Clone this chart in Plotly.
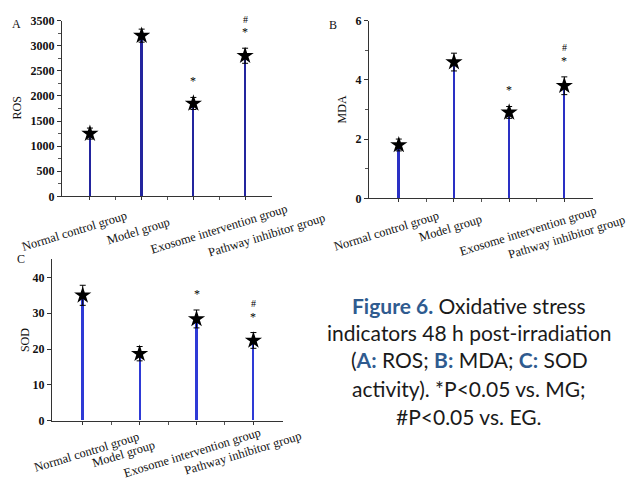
import plotly.graph_objects as go

# ---------------- data ----------------
categories = ["Normal control group", "Model group",
              "Exosome intervention group", "Pathway inhibitor group"]
ros_mean = [1250, 3200, 1850, 2800]
ros_err = [110, 130, 120, 150]
mda_mean = [1.8, 4.6, 2.9, 3.8]
mda_err = [0.2, 0.3, 0.2, 0.3]
sod_mean = [35.0, 18.7, 28.4, 22.4]
sod_err = [2.8, 2.0, 2.5, 2.2]
sig_star = ["", "", "*", "*"]
sig_hash = ["", "", "", "#"]
ros_ticks = [0, 500, 1000, 1500, 2000, 2500, 3000, 3500]
mda_ticks = [0, 2, 4, 6]
sod_ticks = [0, 10, 20, 30, 40]

caption_lines = [
    "<b style='color:#2f5b8f'>Figure 6.</b> Oxidative stress",
    "indicators 48 h post-irradiation",
    "(<b style='color:#2f5b8f'>A:</b> ROS; <b style='color:#2f5b8f'>B:</b> MDA; <b style='color:#2f5b8f'>C:</b> SOD",
    "activity). *P&lt;0.05 vs. MG;",
    "#P&lt;0.05 vs. EG.",
]

# ---------------- layout / style ----------------
W, H = 635, 484
SERIF = "Liberation Serif, Times New Roman, serif"
SANS = "Lato, Open Sans, sans-serif"

def dom_x(a, b):
    return [a / W, b / W]

def dom_y(top, bottom):
    return [1 - bottom / H, 1 - top / H]

panels = [
    dict(key="", mean=ros_mean, err=ros_err, ticks=ros_ticks, rng=[0, 3500], minor=250,
         title="ROS", letter="A", dx=dom_x(62, 272), dy=dom_y(14, 195),
         color="#23259e", title_shift=-45, letter_pos=(16, 18),
         label_off=[(-15, 35), (-3, 35), (26, 33), (22, 39)]),
    dict(key="2", mean=mda_mean, err=mda_err, ticks=mda_ticks, rng=[0, 6], minor=1,
         title="MDA", letter="B", dx=dom_x(369, 593), dy=dom_y(14, 197),
         color="#2a30c4", title_shift=-27, letter_pos=(333, 19),
         label_off=[(-12, 33), (-3, 30), (19, 33), (3, 39)]),
    dict(key="3", mean=sod_mean, err=sod_err, ticks=sod_ticks, rng=[0, 45], minor=None,
         title="SOD", letter="C", dx=dom_x(52, 283), dy=dom_y(260, 426),
         color="#2e3ad6", title_shift=-27, letter_pos=(21, 260),
         label_off=[(4, 31), (-16, 33), (-5, 32), (-10, 32)]),
]

idx = list(range(len(categories)))
fig = go.Figure()
annotations = []

for p in panels:
    xa = "x" + p["key"]
    ya = "y" + p["key"]
    # stems
    fig.add_trace(go.Bar(x=idx, y=p["mean"], width=0.035, xaxis=xa, yaxis=ya,
                         marker=dict(color=p["color"], line=dict(width=0)),
                         showlegend=False, hoverinfo="skip"))
    # star markers with error bars
    fig.add_trace(go.Scatter(x=idx, y=p["mean"], mode="markers", xaxis=xa, yaxis=ya,
                             marker=dict(symbol="star", size=13, color="black"),
                             error_y=dict(type="data", array=p["err"], color="black",
                                          thickness=1, width=3),
                             showlegend=False))
    axis_x = dict(domain=p["dx"], range=[-0.54, 3.52], tickvals=idx, ticktext=[""] * 4,
                  showline=True, linecolor="#333", linewidth=1, ticks="outside",
                  ticklen=3, tickcolor="#333", showgrid=False, zeroline=False,
                  anchor=ya, fixedrange=True,
                  minor=dict(tickvals=[0.5, 1.5, 2.5], ticks="outside", ticklen=3,
                             tickcolor="#555", showgrid=False))
    axis_y = dict(domain=p["dy"], range=p["rng"], tickvals=p["ticks"],
                  showline=True, linecolor="#333", linewidth=1, ticks="outside",
                  ticklen=4, tickcolor="#333", showgrid=False, zeroline=False,
                  anchor=xa, fixedrange=True,
                  tickfont=dict(family=SERIF, size=12, color="#111", weight="bold"))
    if p["minor"]:
        axis_y["minor"] = dict(dtick=p["minor"], ticks="outside", ticklen=3,
                               tickcolor="#555", showgrid=False)
    fig.update_layout(**{"xaxis" + p["key"]: axis_x, "yaxis" + p["key"]: axis_y})

    # category labels
    for i, cat in enumerate(categories):
        ox, oy = p["label_off"][i]
        annotations.append(dict(x=i, y=0, xref=xa, yref=ya, text=cat, showarrow=False,
                                textangle=-17, xanchor="center", yanchor="middle",
                                xshift=ox, yshift=-oy,
                                font=dict(family=SERIF, size=12.5, color="#111")))
    # significance marks
    for i in idx:
        top = p["mean"][i] + p["err"][i]
        if sig_star[i]:
            annotations.append(dict(x=i, y=top, xref=xa, yref=ya, text=sig_star[i],
                                    showarrow=False, yanchor="middle", yshift=16,
                                    font=dict(family=SERIF, size=12, color="black")))
        if sig_hash[i]:
            annotations.append(dict(x=i, y=top, xref=xa, yref=ya, text=sig_hash[i],
                                    showarrow=False, yanchor="middle", yshift=29,
                                    font=dict(family=SERIF, size=10, color="black")))
    # axis title
    annotations.append(dict(x=0, y=0.5, xref=xa + " domain", yref=ya + " domain",
                            text=p["title"], textangle=-90, showarrow=False,
                            xanchor="center", yanchor="middle", xshift=p["title_shift"],
                            font=dict(family=SERIF, size=12, color="#111")))
    # panel letter
    lx, ly = p["letter_pos"]
    annotations.append(dict(x=lx / W, y=1 - ly / H, xref="paper", yref="paper",
                            text=p["letter"], showarrow=False, xanchor="center",
                            yanchor="middle",
                            font=dict(family=SERIF, size=12, color="#111")))

# caption
caption_y = [307, 335, 363, 393, 422]
for line, cy in zip(caption_lines, caption_y):
    annotations.append(dict(x=469 / W, y=1 - cy / H, xref="paper", yref="paper",
                            text=line, showarrow=False, xanchor="center",
                            yanchor="middle",
                            font=dict(family=SANS, size=21, color="#1a1a1a")))

fig.update_layout(width=W, height=H, margin=dict(l=0, r=0, t=0, b=0),
                  paper_bgcolor="white", plot_bgcolor="white",
                  annotations=annotations, bargap=0, showlegend=False)

fig.write_html("out.html", config={"displayModeBar": False},
               post_script="document.body.style.margin='0';"
                           "document.body.style.overflow='hidden';")
